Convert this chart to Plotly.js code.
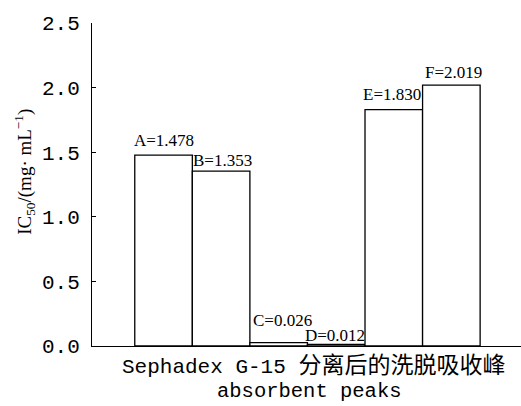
<!DOCTYPE html>
<html>
<head>
<meta charset="utf-8">
<script src="https://cdn.plot.ly/plotly-3.0.1.min.js"></script>
<style>html,body{margin:0;padding:0;background:#fff;}#chart{width:521px;height:406px;}</style>
</head>
<body>
<div id="chart"></div>
<script>
const categories = ["A", "B", "C", "D", "E", "F"];
const ic50Values = [1.478, 1.353, 0.026, 0.012, 1.830, 2.019];
const yTickValues = [0.0, 0.5, 1.0, 1.5, 2.0, 2.5];
const yTickLabels = ["0.0", "0.5", "1.0", "1.5", "2.0", "2.5"];
const xTitleLine1Latin = "Sephadex G-15 ";
const xTitleLine1Cjk = "分离后的洗脱吸收峰";
const xTitleLine2 = "absorbent peaks";
const yTitleText = 'IC<sub>50</sub>/(mg· mL<sup>−1</sup>)';

// label offsets (layout only)
const labelYShift = [3, -1, 11, -3, 4, 1];
const labelXShift = [0, 1, 4, -1, -2, 2];

const monoFont = '"Liberation Mono", "Noto Sans CJK SC", monospace';
const serifFont = '"Liberation Serif", "Noto Sans CJK SC", serif';

const trace = {
  type: 'bar',
  x: categories.map((c, i) => i),
  y: ic50Values,
  width: 1,
  marker: {color: '#ffffff', line: {color: '#000000', width: 1.3}},
  hoverinfo: 'skip'
};

const annotations = categories.map((c, i) => ({
  x: i, y: ic50Values[i], xref: 'x', yref: 'y',
  text: c + '=' + ic50Values[i].toFixed(3),
  showarrow: false, yanchor: 'bottom', xanchor: 'center',
  yshift: labelYShift[i], xshift: labelXShift[i],
  font: {family: serifFont, size: 17, color: '#000'}
}));

annotations.push({
  xref: 'paper', yref: 'paper', x: 0.517, y: -0.065,
  xanchor: 'center', yanchor: 'middle', showarrow: false,
  text: xTitleLine1Latin + '<span style="font-size:23px">' + xTitleLine1Cjk + '</span>',
  font: {family: monoFont, size: 21, color: '#000'}
});
annotations.push({
  xref: 'paper', yref: 'paper', x: 0.508, y: -0.1424,
  xanchor: 'center', yanchor: 'middle', showarrow: false,
  text: xTitleLine2,
  font: {family: monoFont, size: 20.5, color: '#000'}
});
annotations.push({
  xref: 'paper', yref: 'paper', x: -0.158, y: 0.54,
  xanchor: 'center', yanchor: 'middle', showarrow: false,
  textangle: -90,
  text: yTitleText,
  font: {family: serifFont, size: 19, color: '#000'}
});

const layout = {
  width: 521, height: 406,
  margin: {l: 92, r: 0, t: 23, b: 60},
  paper_bgcolor: '#fff', plot_bgcolor: '#fff',
  showlegend: false,
  bargap: 0,
  xaxis: {
    range: [-1.243, 6.21],
    showgrid: false, zeroline: false,
    showticklabels: false, ticks: '',
    showline: true, linecolor: '#000', linewidth: 1
  },
  yaxis: {
    range: [0, 2.5],
    tickvals: yTickValues, ticktext: yTickLabels,
    ticks: 'inside', ticklen: 4, tickcolor: '#000', tickwidth: 1,
    ticklabelstandoff: 7,
    showgrid: false, zeroline: false,
    showline: true, linecolor: '#000', linewidth: 1,
    tickfont: {family: monoFont, size: 21, color: '#000'}
  },
  annotations: annotations
};

Plotly.newPlot('chart', [trace], layout, {displayModeBar: false, staticPlot: true});
</script>
</body>
</html>
